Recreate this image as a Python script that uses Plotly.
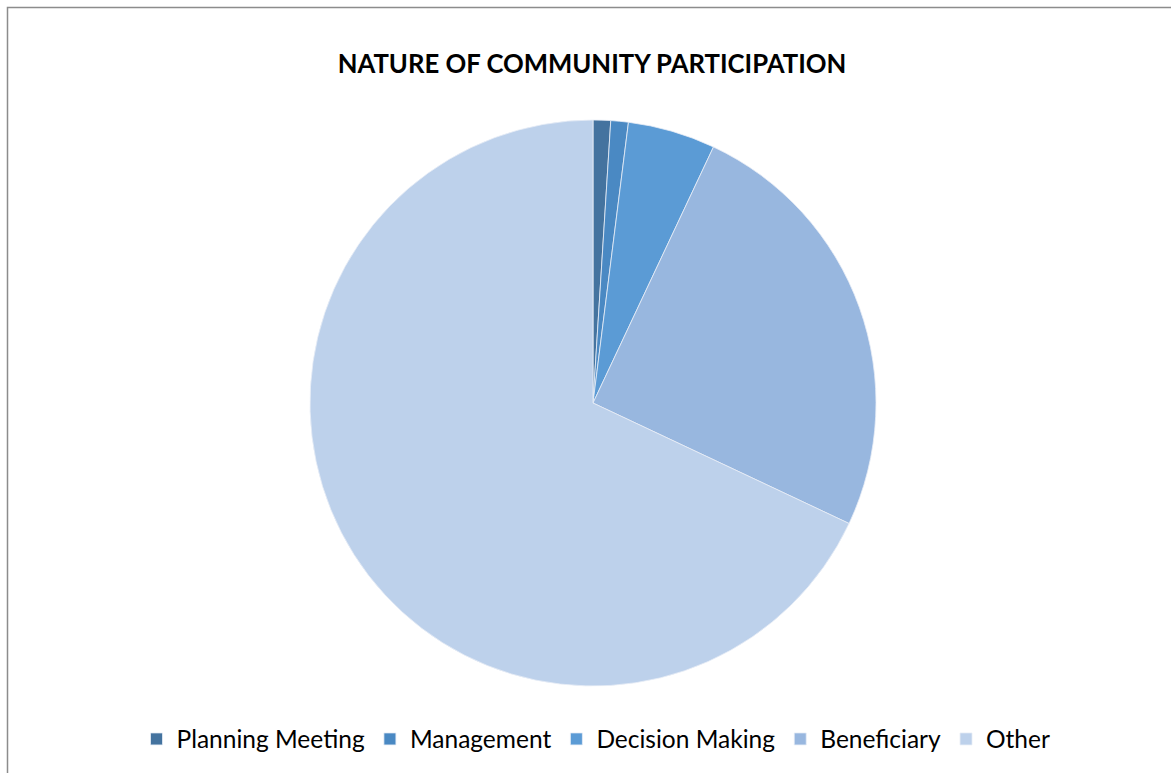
import plotly.graph_objects as go

# Share of respondents by nature of community participation (%)
categories = ["Planning Meeting", "Management", "Decision Making", "Beneficiary", "Other"]
values = [1, 1, 5, 25, 68]
colors = ["#44739F", "#4A89C3", "#5B9BD5", "#98B7DF", "#BDD1EB"]

W, H = 1171, 773

fig = go.Figure(
    go.Pie(
        labels=categories,
        values=values,
        sort=False,
        direction="clockwise",
        rotation=0,
        textinfo="none",
        hoverinfo="label+percent",
        marker=dict(colors=colors, line=dict(color="#E8EEF6", width=0.8)),
        domain=dict(x=[310 / W, 876 / W], y=[87 / H, 653 / H]),
    )
)

fig.update_layout(
    width=W,
    height=H,
    margin=dict(l=0, r=0, t=0, b=0),
    paper_bgcolor="white",
    plot_bgcolor="white",
    title=dict(
        text="<b>NATURE OF COMMUNITY PARTICIPATION</b>",
        x=592 / W,
        xanchor="center",
        y=1 - 64 / H,
        yanchor="middle",
        font=dict(family="Lato", size=25.7, color="black"),
    ),
    legend=dict(
        orientation="h",
        x=596 / W,
        xanchor="center",
        y=1 - 739 / H,
        yanchor="middle",
        font=dict(family="Lato", size=24.5, color="black"),
        itemwidth=30,
        traceorder="normal",
    ),
    shapes=[
        dict(
            type="rect",
            xref="paper",
            yref="paper",
            x0=7.5 / W,
            x1=1.05,
            y0=-0.05,
            y1=1 - 7.5 / H,
            line=dict(color="#8C8C8C", width=1.5),
            layer="below",
        )
    ],
)

fig.write_html("out.html")
